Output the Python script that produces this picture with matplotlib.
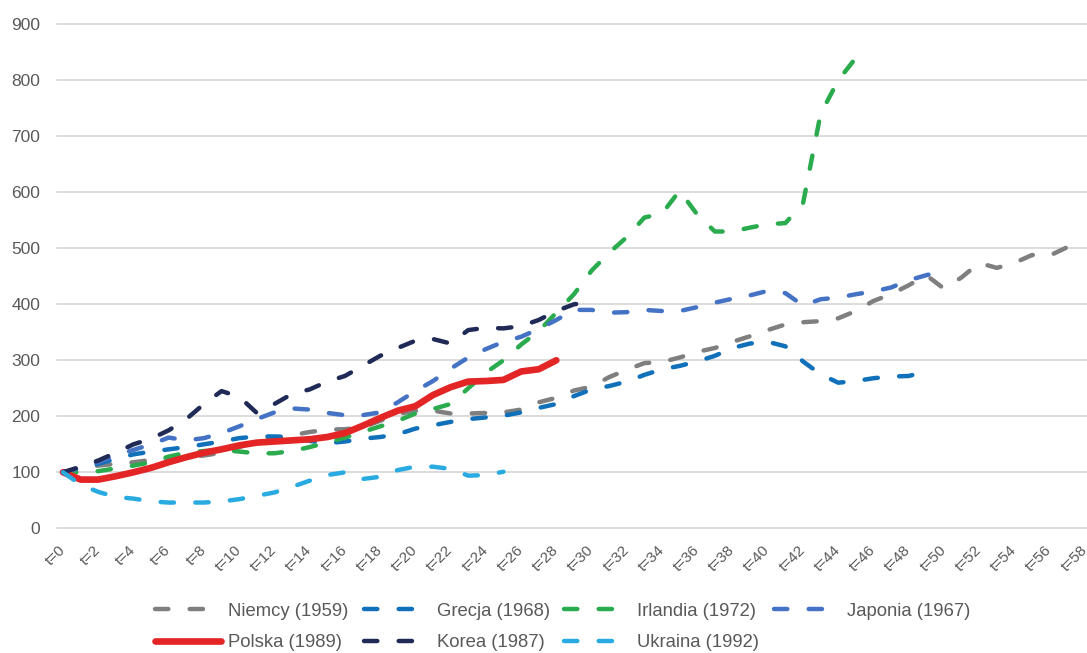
import matplotlib
matplotlib.use("Agg")
from matplotlib import pyplot as plt

plt.rcParams['font.family'] = ['Liberation Sans', 'DejaVu Sans']

# index 100 = t=0 for every country
niemcy = [100, 107, 112, 115, 118, 122, 125, 128, 130, 135,
          145, 155, 160, 166, 172, 176, 177, 180, 192, 204,
          210, 210, 205, 205, 206, 207, 212, 225, 233, 246,
          253, 270, 283, 295, 297, 305, 315, 322, 333, 343,
          354, 364, 368, 370, 375, 388, 406, 418, 434, 452,
          428, 448, 474, 465, 474, 488, 487, 502, 510]
grecja = [100, 107, 115, 124, 132, 137, 141, 145, 150, 155,
          161, 164, 164, 163, 156, 152, 155, 160, 163, 168,
          178, 184, 190, 195, 198, 201, 207, 215, 222, 236,
          248, 254, 262, 274, 284, 290, 298, 308, 322, 330,
          333, 325, 298, 275, 260, 263, 268, 271, 272, 280]
irlandia = [100, 100, 102, 107, 112, 118, 128, 135, 138, 140,
            137, 134, 134, 138, 145, 153, 162, 172, 182, 192,
            205, 213, 222, 250, 278, 300, 328, 352, 385, 418,
            460, 492, 520, 555, 562, 603, 560, 530, 530, 537,
            543, 545, 580, 740, 800, 840]
japonia = [100, 108, 118, 130, 140, 150, 162, 157, 161, 170,
           182, 195, 207, 214, 212, 206, 202, 202, 207, 225,
           245, 263, 285, 305, 320, 333, 342, 356, 372, 390,
           390, 385, 386, 390, 388, 388, 395, 403, 410, 416,
           424, 420, 398, 409, 412, 418, 423, 430, 443, 452, 460]
polska = [100, 87, 87, 93, 100, 108, 118, 127, 135, 141,
          148, 153, 155, 157, 159, 163, 170, 183, 197, 210,
          218, 238, 252, 262, 263, 265, 280, 284, 300]
korea = [100, 110, 121, 135, 150, 160, 175, 195, 222, 245,
         235, 206, 222, 240, 248, 262, 272, 290, 308, 322,
         335, 338, 330, 354, 358, 357, 361, 372, 388, 400, 404]
ukraina = [100, 78, 65, 56, 53, 48, 46, 46, 46, 48,
           52, 58, 64, 74, 85, 95, 100, 88, 92, 104,
           110, 110, 106, 94, 95, 101]

tick_labels = [f"t={i}" for i in range(0, 59, 2)]

series = [
    ("Niemcy (1959)", niemcy, "#7f7f7f"),
    ("Grecja (1968)", grecja, "#1170ba"),
    ("Irlandia (1972)", irlandia, "#2aab4e"),
    ("Japonia (1967)", japonia, "#4472c4"),
    ("Polska (1989)", polska, "#e32526"),
    ("Korea (1987)", korea, "#1f2a56"),
    ("Ukraina (1992)", ukraina, "#29abe2"),
]

fig = plt.figure(figsize=(10.87, 6.53), dpi=100)
ax = fig.add_axes([57 / 1087, 1 - 528.3 / 653, 1 - 57 / 1087, 504 / 653])

handles = []
for name, vals, color in series:
    t = list(range(len(vals)))
    if name.startswith("Polska"):
        line, = ax.plot(t, vals, color=color, lw=4.8, label=name,
                        solid_capstyle='round', solid_joinstyle='round')
    else:
        line, = ax.plot(t, vals, color=color, lw=3.2, label=name,
                        dashes=(3.0, 4.8), dash_capstyle='round',
                        dash_joinstyle='round')
    handles.append(line)

ax.set_xlim(-0.34, 58.12)
ax.set_ylim(0, 900)
ax.set_yticks(range(0, 901, 100))
ax.set_xticks(range(0, 59, 2))
ax.set_xticklabels(tick_labels, rotation=45, ha='right', va='center',
                   rotation_mode='anchor')
ax.tick_params(axis='x', length=0, pad=14, labelsize=11, labelcolor='#595959')
ax.tick_params(axis='y', length=0, pad=12, labelsize=12.5, labelcolor='#595959')
ax.yaxis.grid(True, color='#d9d9d9', lw=1.3)
for gl in ax.get_ygridlines():
    gl.set_clip_on(False)
ax.set_axisbelow(True)
for s in ax.spines.values():
    s.set_visible(False)

# legend reads row by row: first four, then the last three
order = [0, 4, 1, 5, 2, 6, 3]
leg = fig.legend([handles[i] for i in order], [series[i][0] for i in order],
                 ncol=4, loc='center', bbox_to_anchor=(563 / 1087, 1 - 627 / 653),
                 frameon=False, fontsize=13.3, handlelength=3.55,
                 handletextpad=0.4, columnspacing=0.8, labelspacing=0.8)
for txt in leg.get_texts():
    txt.set_color('#595959')

plt.savefig("out.png", dpi=100)
